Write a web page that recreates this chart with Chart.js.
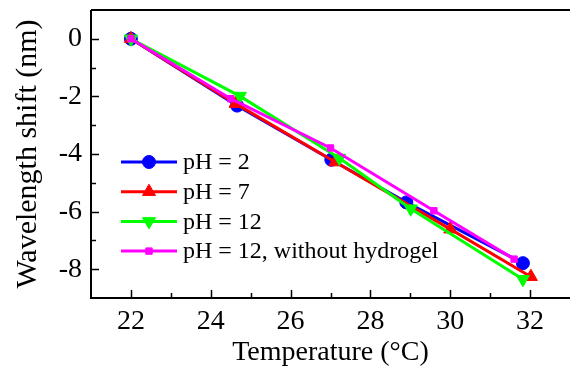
<!DOCTYPE html>
<html>
<head>
<meta charset="utf-8">
<script src="https://cdn.jsdelivr.net/npm/chart.js@4"></script>
<style>
  html, body { margin: 0; padding: 0; background: #fff; }
  #wrap { width: 570px; height: 367px; }
</style>
</head>
<body>
<div id="wrap"><canvas id="chart" width="570" height="367"></canvas></div>
<script>
// Data (temperature in °C, shift in nm)
const ph2X = [22, 24.66, 27.02, 28.9, 31.82];
const ph2Y = [0, -2.32, -4.2, -5.68, -7.79];
const ph7X = [22, 24.62, 27.12, 30.0, 32.02];
const ph7Y = [0, -2.25, -4.28, -6.61, -8.26];
const ph12X = [22, 24.73, 27.22, 29.01, 31.82];
const ph12Y = [0, -1.99, -4.14, -5.9, -8.35];
const ph12nX = [22, 24.5, 27.0, 29.59, 31.6];
const ph12nY = [0, -2.08, -3.79, -5.97, -7.65];

const seriesLabels = ['pH = 2', 'pH = 7', 'pH = 12', 'pH = 12, without hydrogel'];

const xTicks = [22, 24, 26, 28, 30, 32];
const xMinor = [23, 25, 27, 29, 31];
const yTicks = [0, -2, -4, -6, -8];
const yMinor = [-1, -3, -5, -7];

const FONT = "'Liberation Serif', 'Times New Roman', serif";
Chart.defaults.font.family = FONT;
Chart.defaults.color = '#000';

function pts(xs, ys) {
    return xs.map((x, i) => ({ x: x, y: ys[i] }));
}

// Inward tick marks, top border and the legend inside the plot
const framePlugin = {
    id: 'frame',
    afterDraw(chart) {
        const ctx = chart.ctx;
        const area = chart.chartArea;
        const xs = chart.scales.x;
        const ys = chart.scales.y;
        ctx.save();
        ctx.strokeStyle = '#000';
        ctx.lineWidth = 2;
        ctx.beginPath();
        ctx.moveTo(area.left, area.top);
        ctx.lineTo(area.right, area.top);
        ctx.moveTo(area.left, area.top);
        ctx.lineTo(area.left, area.bottom);
        ctx.lineTo(area.right, area.bottom);
        ctx.stroke();

        ctx.lineWidth = 1.5;
        ctx.beginPath();
        xTicks.forEach(v => {
            const px = Math.round(xs.getPixelForValue(v)) + 0.5;
            ctx.moveTo(px, area.bottom);
            ctx.lineTo(px, area.bottom - 8);
        });
        xMinor.forEach(v => {
            const px = Math.round(xs.getPixelForValue(v)) + 0.5;
            ctx.moveTo(px, area.bottom);
            ctx.lineTo(px, area.bottom - 5);
        });
        yTicks.forEach(v => {
            const py = Math.round(ys.getPixelForValue(v)) + 0.5;
            ctx.moveTo(area.left, py);
            ctx.lineTo(area.left + 8, py);
        });
        yMinor.forEach(v => {
            const py = Math.round(ys.getPixelForValue(v)) + 0.5;
            ctx.moveTo(area.left, py);
            ctx.lineTo(area.left + 5, py);
        });
        ctx.stroke();

        // legend
        const lx = 121, lw = 56, ly = 162, rowH = 29.7;
        chart.data.datasets.forEach((ds, i) => {
            const y = ly + i * rowH;
            ctx.strokeStyle = ds.borderColor;
            ctx.lineWidth = ds.borderWidth;
            ctx.beginPath();
            ctx.moveTo(lx, y);
            ctx.lineTo(lx + lw, y);
            ctx.stroke();
            ctx.fillStyle = ds.backgroundColor;
            ctx.strokeStyle = ds.borderColor;
            ctx.lineWidth = 1;
            Chart.helpers.drawPoint(ctx, {
                pointStyle: ds.pointStyle,
                radius: ds.pointRadius,
                rotation: ds.pointRotation || 0,
                borderWidth: 1
            }, lx + lw / 2, y);
            ctx.fillStyle = '#000';
            ctx.font = '24px ' + FONT;
            ctx.textBaseline = 'middle';
            ctx.textAlign = 'left';
            ctx.fillText(ds.label, lx + lw + 6, y + 1);
        });
        ctx.restore();
    }
};

function series(label, xs, ys, color, style, radius, rotation, order) {
    return {
        label: label,
        data: pts(xs, ys),
        borderColor: color,
        backgroundColor: color,
        borderWidth: 3,
        pointStyle: style,
        pointRadius: radius,
        pointRotation: rotation,
        pointBorderWidth: 1,
        order: order
    };
}

function noPad(s) {
    s.paddingTop = 0;
    s.paddingBottom = 0;
    s.paddingLeft = 0;
    s.paddingRight = 0;
}

new Chart(document.getElementById('chart'), {
    type: 'line',
    data: {
        datasets: [
            series(seriesLabels[0], ph2X, ph2Y, '#0000ff', 'circle', 6.5, 0, 4),
            series(seriesLabels[1], ph7X, ph7Y, '#ff0000', 'triangle', 7.5, 0, 3),
            series(seriesLabels[2], ph12X, ph12Y, '#00ff00', 'triangle', 7.5, 180, 2),
            series(seriesLabels[3], ph12nX, ph12nY, '#ff00ff', 'rect', 4.5, 0, 1)
        ]
    },
    options: {
        responsive: false,
        animation: false,
        layout: { autoPadding: false, padding: { top: 10, right: -8, left: 0, bottom: 0 } },
        plugins: {
            legend: { display: false },
            tooltip: { enabled: false }
        },
        scales: {
            x: {
                type: 'linear',
                min: 21,
                max: 33,
                grid: { display: false, drawTicks: false },
                border: { display: false },
                afterBuildTicks: s => { s.ticks = xTicks.map(v => ({ value: v })); },
                afterFit: s => { s.height = 69; noPad(s); },
                ticks: {
                    padding: 7,
                    color: '#000',
                    maxRotation: 0,
                    font: { family: FONT, size: 28 }
                },
                title: {
                    display: true,
                    text: 'Temperature (°C)',
                    color: '#000',
                    font: { family: FONT, size: 28, lineHeight: 1 },
                    padding: { top: 0, bottom: 0 }
                }
            },
            y: {
                type: 'linear',
                min: -9,
                max: 1,
                grid: { display: false, drawTicks: false },
                border: { display: false },
                afterBuildTicks: s => { s.ticks = yTicks.map(v => ({ value: v })); },
                afterFit: s => { s.width = 91; noPad(s); },
                ticks: {
                    padding: 9,
                    color: '#000',
                    font: { family: FONT, size: 28 }
                },
                title: {
                    display: true,
                    text: 'Wavelength shift (nm)',
                    color: '#000',
                    font: { family: FONT, size: 30, lineHeight: 1 },
                    padding: { top: 13, bottom: 0 }
                }
            }
        }
    },
    plugins: [framePlugin]
});
</script>
</body>
</html>
